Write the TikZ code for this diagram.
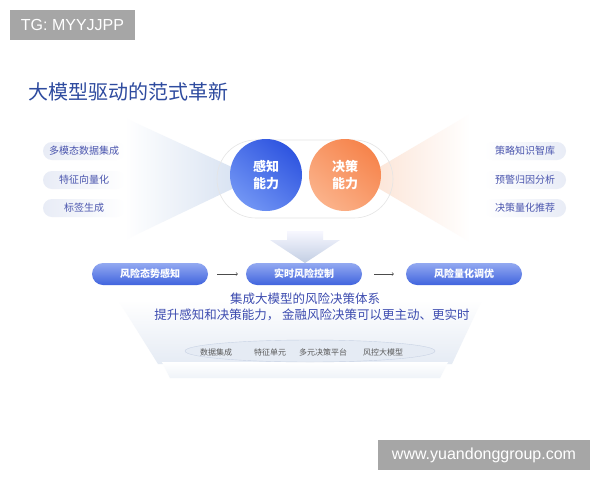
\documentclass[tikz,border=0pt]{standalone}
\usepackage{fontspec}
\setmainfont{Liberation Sans}
\newfontfamily\cjk{Noto Sans CJK SC}
\usetikzlibrary{arrows.meta}

\definecolor{titleblue}{HTML}{2E4B9F}
\definecolor{pilltext}{HTML}{4A55AE}
\definecolor{pillfill}{HTML}{E8ECF6}
\definecolor{linetext}{HTML}{3D4CB0}
\definecolor{markgray}{HTML}{A6A6A6}
\definecolor{rowtop}{HTML}{93A9F1}
\definecolor{rowbot}{HTML}{4064DE}
\definecolor{sensetop}{HTML}{2F55E0}
\definecolor{sensebot}{HTML}{7195F4}
\definecolor{decidetop}{HTML}{F6844C}
\definecolor{decidebot}{HTML}{FBB28A}
\definecolor{fanblue}{HTML}{D9E3F2}
\definecolor{fanorange}{HTML}{FCE6D9}
\definecolor{arrowbot}{HTML}{C2CEE3}
\definecolor{basefill}{HTML}{E5EBF4}
\definecolor{baseedge}{HTML}{C8D2E4}

\tikzset{
  leftpill/.style={rounded corners=9pt, minimum width=82pt, minimum height=18pt,
    left color=pillfill, right color=white, text=pilltext, inner sep=0pt,
    font=\cjk\fontsize{10}{12}\selectfont},
  rightpill/.style={leftpill, left color=white, right color=pillfill},
  ability/.style={circle, minimum size=72pt, text=white, align=center,
    font=\cjk\bfseries\fontsize{13}{17}\selectfont},
  rowpill/.style={rounded corners=11pt, minimum width=116pt, minimum height=22pt,
    top color=rowtop, bottom color=rowbot, text=white, inner sep=0pt,
    font=\cjk\bfseries\fontsize{10}{12}\selectfont},
  baselabel/.style={text=black!65, inner sep=0pt, font=\cjk\fontsize{8}{10}\selectfont},
}

\begin{document}
\begin{tikzpicture}[x=1pt, y=-1pt]
    % Fix the page size
    \useasboundingbox[fill=white] (0,0) rectangle (600,480);

    % Watermark top left
    \fill[markgray] (10,10) rectangle (135,40);
    \node[text=white, font=\fontsize{16}{18}\selectfont] (tg) at (72.5,25) {TG: MYYJJPP};

    % Title
    \node[anchor=west, text=titleblue, inner sep=0pt, font=\cjk\fontsize{20}{24}\selectfont]
      (title) at (28,92) {大模型驱动的范式革新};

    % Draw the fans behind the circles
    \shade[left color=white, right color=fanblue] (125,118) -- (234,168) -- (234,188) -- (125,240) -- cycle;
    \shade[left color=fanorange, right color=white] (378,168) -- (470,114) -- (470,242) -- (378,188) -- cycle;

    % Capsule around the two abilities
    \draw[black!10, line width=0.6pt, rounded corners=39pt] (217,140) rectangle (393,218);

    % The two abilities
    \node[ability, top color=sensetop, bottom color=sensebot, shading angle=-40]
      (sense) at (266,175) {感知\\能力};
    \node[ability, top color=decidetop, bottom color=decidebot, shading angle=-40]
      (decide) at (345,175) {决策\\能力};

    % Left inputs
    \node[leftpill] (multi) at (84,151) {多模态数据集成};
    \node[leftpill] (vector) at (84,180) {特征向量化};
    \node[leftpill] (label) at (84,208) {标签生成};

    % Right outputs
    \node[rightpill] (library) at (525,151) {策略知识智库};
    \node[rightpill] (cause) at (525,180) {预警归因分析};
    \node[rightpill] (recommend) at (525,208) {决策量化推荐};

    % Down arrow
    \shade[top color=blue!3!white, bottom color=arrowbot]
      (287,231) -- (323,231) -- (323,240) -- (340,240) -- (305,263) -- (270,240) -- (287,240) -- cycle;

    % Platform under the text
    \shade[top color=white, bottom color=basefill]
      (118,300) -- (482,300) -- (452,364) -- (158,364) -- cycle;
    \shade[top color=white, bottom color=basefill!60!white]
      (162,362) -- (448,362) -- (440,378) -- (170,378) -- cycle;
    \draw[baseedge, fill=basefill] (310,351) ellipse (125 and 11);

    % Row of risk steps
    \node[rowpill] (aware) at (150,274) {风险态势感知};
    \node[rowpill] (control) at (304,274) {实时风险控制};
    \node[rowpill] (tune) at (464,274) {风险量化调优};
    \draw[black!70, line width=0.5pt, -{Straight Barb[length=1.5pt, width=3pt]}, shorten <=9pt, shorten >=8pt] (aware) -- (control);
    \draw[black!70, line width=0.5pt, -{Straight Barb[length=1.5pt, width=3pt]}, shorten <=12pt, shorten >=12pt] (control) -- (tune);

    % Summary text
    \node[text=linetext, font=\cjk\fontsize{12.5}{15}\selectfont] (system) at (305,299) {集成大模型的风险决策体系};
    \node[text=linetext, font=\cjk\fontsize{12.5}{15}\selectfont] (promote) at (312,315) {提升感知和决策能力， 金融风险决策可以更主动、更实时};

    % Base labels
    \node[baselabel] (data) at (216,352) {数据集成};
    \node[baselabel] (feature) at (270,352) {特征单元};
    \node[baselabel] (platform) at (323,352) {多元决策平台};
    \node[baselabel] (riskmodel) at (383,352) {风控大模型};

    % Watermark bottom right
    \fill[markgray] (378,440) rectangle (590,470);
    \node[text=white, font=\fontsize{16}{18}\selectfont] (site) at (484,455) {www.yuandonggroup.com};
\end{tikzpicture}
\end{document}
